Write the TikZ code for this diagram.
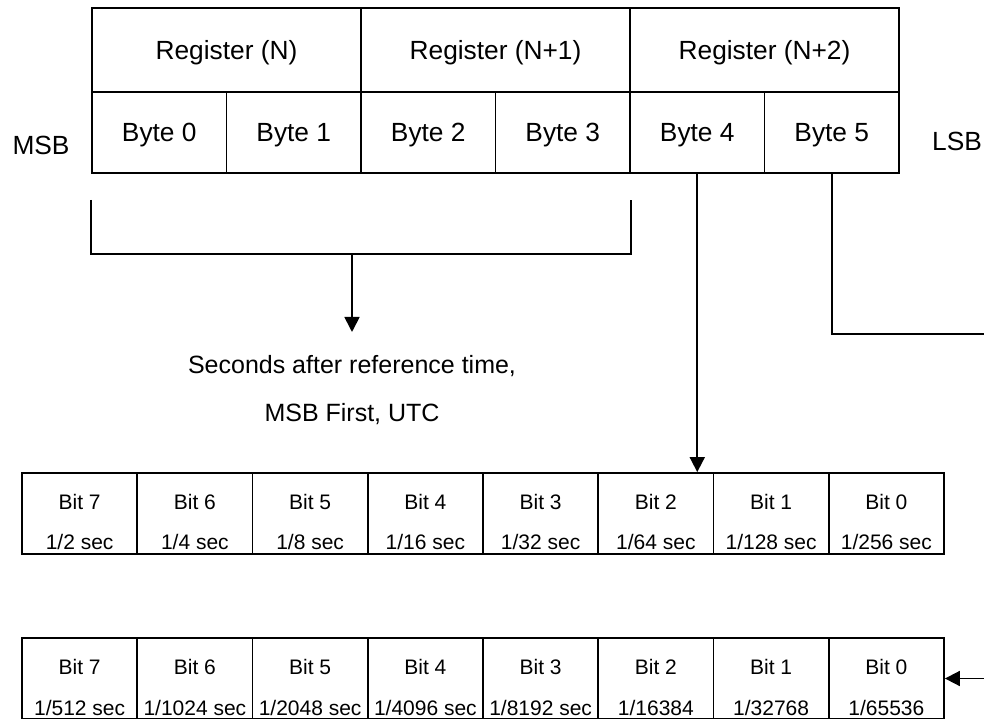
\documentclass[tikz,border=0pt]{standalone}
\usepackage{fontspec}
\setmainfont{Liberation Sans}
\usetikzlibrary{arrows.meta}

\begin{document}
\begin{tikzpicture}[x=1pt, y=-1pt, line width=1.8pt,
    regbox/.style={draw, minimum width=269pt, minimum height=84pt, text depth=0pt, font=\fontsize{26.3}{30}\selectfont},
    bytebox/.style={draw, minimum width=134.5pt, minimum height=81pt, text depth=0pt, font=\fontsize{26.3}{30}\selectfont},
    bitbox/.style={draw, minimum width=115.25pt, minimum height=81pt},
    bittext/.style={anchor=base, inner sep=0pt, font=\fontsize{21}{24}\selectfont},
    sidetext/.style={text depth=0pt, font=\fontsize{26.3}{30}\selectfont},
    note/.style={anchor=base, inner sep=0pt, font=\fontsize{25}{30}\selectfont},
    arr/.style={-{Triangle[length=15pt, width=15pt]}}]

    \useasboundingbox (0,0) rectangle (984,719);

    \foreach \t [count=\i from 0] in {Register (N), Register (N+1), Register (N+2)}
        \node[regbox] (reg\i) at (226.5+269*\i, 50) {\t};

    \foreach \i in {0,...,5}
        \node[bytebox] (byte\i) at (159.25+134.5*\i, 132.5) {Byte \i};

    \node[sidetext] (msb) at (41,145) {MSB};
    \node[sidetext] (lsb) at (957,141) {LSB};

    \foreach \v [count=\k from 0] in {{1/2 sec},{1/4 sec},{1/8 sec},{1/16 sec},{1/32 sec},{1/64 sec},{1/128 sec},{1/256 sec}} {
        \pgfmathtruncatemacro{\bitno}{7-\k}
        \node[bitbox] (hi\bitno) at (79.625+115.25*\k, 513.5) {};
        \node[bittext] at ([yshift=-37pt]hi\bitno.north) {Bit \bitno};
        \node[bittext] at ([yshift=-77pt]hi\bitno.north) {\v};
    }

    \foreach \v [count=\k from 0] in {{1/512 sec},{1/1024 sec},{1/2048 sec},{1/4096 sec},{1/8192 sec},{1/16384},{1/32768},{1/65536}} {
        \pgfmathtruncatemacro{\bitno}{7-\k}
        \node[bitbox] (lo\bitno) at (79.625+115.25*\k, 678.5) {};
        \node[bittext] at ([yshift=-37pt]lo\bitno.north) {Bit \bitno};
        \node[bittext] at ([yshift=-78pt]lo\bitno.north) {\v};
    }

    \node[note] (secs) at (352,373) {Seconds after reference time,};
    \node[note] (msbfirst) at (352,421) {MSB First, UTC};

    \coordinate (brace) at (352,254);
    \draw ([yshift=-26pt]byte0.south west) |- (brace) -| ([yshift=-26pt]byte3.south east);
    \draw[arr, shorten >=22pt] (brace) -- (secs.north);

    \draw[arr] (byte4.south) -- (byte4.south |- hi2.north);

    \coordinate (offpage) at (1000,334);
    \draw[arr] (byte5.south) |- (offpage) |- (lo0.east);

\end{tikzpicture}
\end{document}
